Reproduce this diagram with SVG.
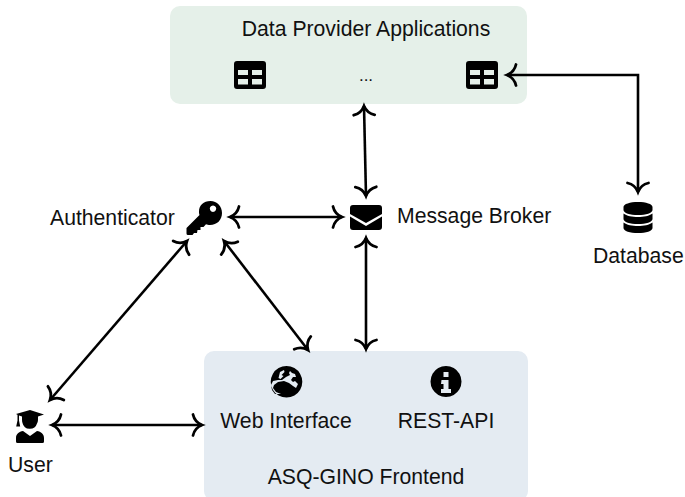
<svg xmlns="http://www.w3.org/2000/svg" width="685" height="497" viewBox="0 0 685 497">
<style>
text{font-family:"Liberation Sans",Arial,sans-serif;font-size:21.200px;fill:#111}
.m{text-anchor:middle}
.c{fill:none;stroke:#000;stroke-width:2.600;marker-start:url(#a);marker-end:url(#a)}
.i{fill:#000}
</style>
<defs>
<marker id="a" markerUnits="userSpaceOnUse" markerWidth="24" markerHeight="28" refX="20" refY="14" orient="auto-start-reverse" viewBox="0 0 24 28">
<path d="M11 3.500C12 8 15 12 20 14C15 16 12 20 11 24.500" fill="none" stroke="#000" stroke-width="2.800" stroke-linecap="round"/>
</marker>
<g id="tbl"><path fill-rule="evenodd" d="M3 0H29Q32 0 32 3V25Q32 28 29 28H3Q0 28 0 25V3Q0 0 3 0ZM4 9V14H14V9ZM18 9V14H28V9ZM4 18V23.500H14V18ZM18 18V23.500H28V18Z"/></g>
</defs>
<g id="data-providers">
<rect x="170" y="6" width="357" height="98" rx="10" fill="#e5f0e9"/>
<text class="m" x="366" y="36">Data Provider Applications</text>
<use href="#tbl" x="234" y="61"/>
<text class="m" x="366" y="81" style="font-size:17px">...</text>
<use href="#tbl" x="466" y="61"/>
</g>
<g id="frontend">
<rect x="204" y="351" width="324" height="150" rx="10" fill="#e4ebf2"/>
<path id="globe" fill-rule="evenodd" class="i" d="M286.500 366a15.800 15.800 0 1 0 .01 0ZM280 372l4-2 .5 2-3 3 2 1-3 3-2-1ZM290 371l2 2 3 1 1 3-3 0-2 3 2 2 2-1 3 3-2 4-3-2-4-3-5-2-6 1-4 3-1 3 3 4 5 2-6 0-3-4-1-5 2-4 5-1 4 0 4-3 4-2-1-2Z"/>
<text class="m" x="286" y="428">Web Interface</text>
<path id="info" fill-rule="evenodd" class="i" d="M446 366a15.500 15.500 0 1 0 .01 0ZM443.500 372h5v5h-5ZM441.500 380h7v9h2.500v4h-10v-4h2.500v-5h-2.500Z"/>
<text class="m" x="446" y="428">REST-API</text>
<text class="m" x="366" y="484">ASQ-GINO Frontend</text>
</g>
<g id="authenticator">
<text x="50" y="225">Authenticator</text>
<path id="key" fill-rule="evenodd" class="i" d="M210.500 201c6.500 0 11.500 5 11.500 12s-5 12-12 12c-1.500 0-3-.3-4-.8l-2.500 2.800h-3v3h-3l-.5 3h-3l-1.500 2h-4.500q-1.500 0-1.500-1.500v-5.500l13-13c-.5-1.500-.5-2.500-.5-3.500 0-6 4.500-10.500 11.500-10.500ZM213 205.500a3.200 3.200 0 1 0 .01 0Z"/>
</g>
<g id="broker">
<path id="mail" class="i" d="M350 208q0-3 3-3h26q3 0 3 3v6l-16 9-16-9ZM350 216.500l16 9.500 16-9.500v10.500q0 3-3 3h-26q-3 0-3-3Z"/>
<text x="397" y="223">Message Broker</text>
</g>
<g id="database">
<path id="db" class="i" d="M638 202c8 0 14.500 2 14.500 5v3c0 3-6.500 5-14.500 5s-14.500-2-14.500-5v-3c0-3 6.500-5 14.500-5ZM623.500 213.500c3 2.500 9 3.500 14.500 3.500s11.500-1 14.500-3.500v5.500c0 3-6.500 5-14.500 5s-14.500-2-14.500-5ZM623.500 222.500c3 2.500 9 3.500 14.500 3.500s11.500-1 14.500-3.500v5.500c0 3-6.500 5-14.500 5s-14.500-2-14.500-5Z"/>
<text x="593" y="263">Database</text>
</g>
<g id="user">
<path id="usr" class="i" d="M30 410l14 4.500-6 2v3c0 2-.5 3-1 4a7.500 7.500 0 0 1-14.500-.5c-.3-1-.5-2-.5-3.500v-3l-3-1v5l1.200 6h-4l1.300-6v-5.800l-1.500-.7ZM23 431l7 5 7-5c4 .5 7 3 7 7v3.500q0 1.500-1.500 1.500h-25q-1.500 0-1.500-1.500v-3.500c0-4 3-6.500 7-7Z"/>
<text x="8" y="472">User</text>
</g>
<g id="connectors">
<path class="c" d="M364 106L366 196"/>
<path class="c" d="M230 217H342"/>
<path class="c" d="M366 238V349"/>
<path class="c" d="M507 75H638V192"/>
<path class="c" d="M187 241L50 400"/>
<path class="c" d="M224 241L308 350"/>
<path class="c" d="M52 425H202"/>
</g>
</svg>
